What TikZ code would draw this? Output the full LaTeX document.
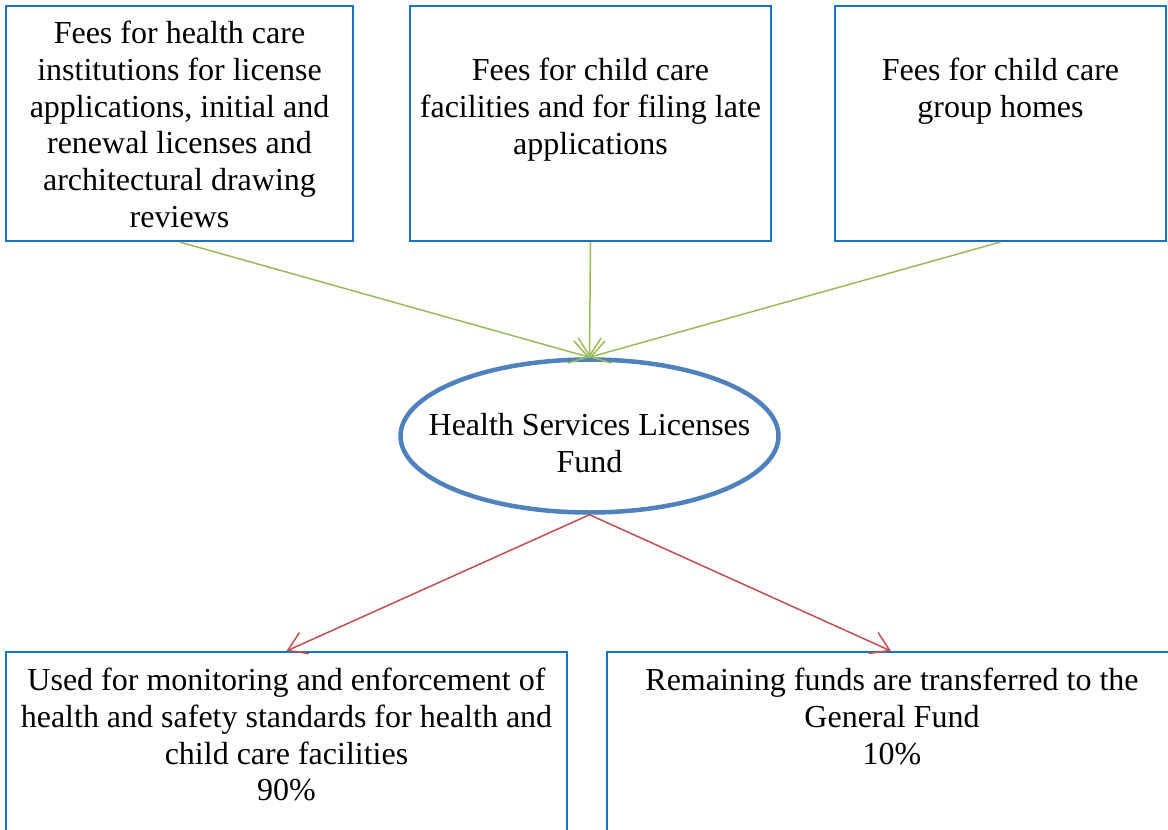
\documentclass[tikz,border=0pt]{standalone}
\usepackage{fontspec}
\setmainfont{Liberation Serif}
\usetikzlibrary{arrows.meta,shapes.geometric}
\definecolor{boxblue}{RGB}{20,115,200}
\definecolor{fundblue}{RGB}{79,129,189}
\definecolor{ingreen}{RGB}{155,187,89}
\definecolor{outred}{RGB}{192,80,77}
\tikzset{
  box/.style={draw=boxblue, line width=2pt, rectangle, inner sep=0pt},
  fundshape/.style={draw=fundblue, line width=4.5pt, ellipse, inner sep=0pt, minimum width=378pt, minimum height=153pt},
  txt/.style={anchor=north, inner sep=0pt, align=center, font=\fontsize{32}{36.7}\selectfont},
  inarrow/.style={draw=ingreen, line width=1.5pt, -{Straight Barb[length=18pt,width=23pt,line width=1.5pt]}},
  outarrow/.style={draw=outred, line width=1.5pt, -{Straight Barb[length=18pt,width=23pt,line width=1.5pt]}}
}
\begin{document}
\begin{tikzpicture}[x=1pt,y=-1pt]
\useasboundingbox (0,0) rectangle (1168,830);
\clip (0,0) rectangle (1168,830);
% top boxes
\node[box, minimum width=347pt, minimum height=235pt] (b1) at (179.5,123.5) {};
\node[box, minimum width=361pt, minimum height=235pt] (b2) at (590.5,123.5) {};
\node[box, minimum width=331pt, minimum height=235pt] (b3) at (1000.5,123.5) {};
\node[txt] (t1) at (179.5,21) {Fees for health care\\institutions for license\\applications, initial and\\renewal licenses and\\architectural drawing\\reviews};
\node[txt] (t2) at (590.5,58) {Fees for child care\\facilities and for filing late\\applications};
\node[txt] (t3) at (1000.5,58) {Fees for child care\\group homes};
% fund
\node[fundshape] (fund) at (589.5,436) {};
\node[txt] (tf) at (589.5,413) {Health Services Licenses\\Fund};
% bottom boxes
\node[box, minimum width=561pt, minimum height=248pt] (b4) at (286.5,776) {};
\node[box, minimum width=568pt, minimum height=248pt] (b5) at (891,776) {};
\node[txt] (t4) at (286.5,668) {Used for monitoring and enforcement of\\health and safety standards for health and\\child care facilities\\90\%};
\node[txt] (t5) at (892,668) {Remaining funds are transferred to the\\General Fund\\10\%};
% connectors
\draw[inarrow] (b1.south) -- (fund.north);
\draw[inarrow] (b2.south) -- (fund.north);
\draw[inarrow] (b3.south) -- (fund.north);
\draw[outarrow] (fund.south) -- (b4.north);
\draw[outarrow] (fund.south) -- (b5.north);
\end{tikzpicture}
\end{document}
